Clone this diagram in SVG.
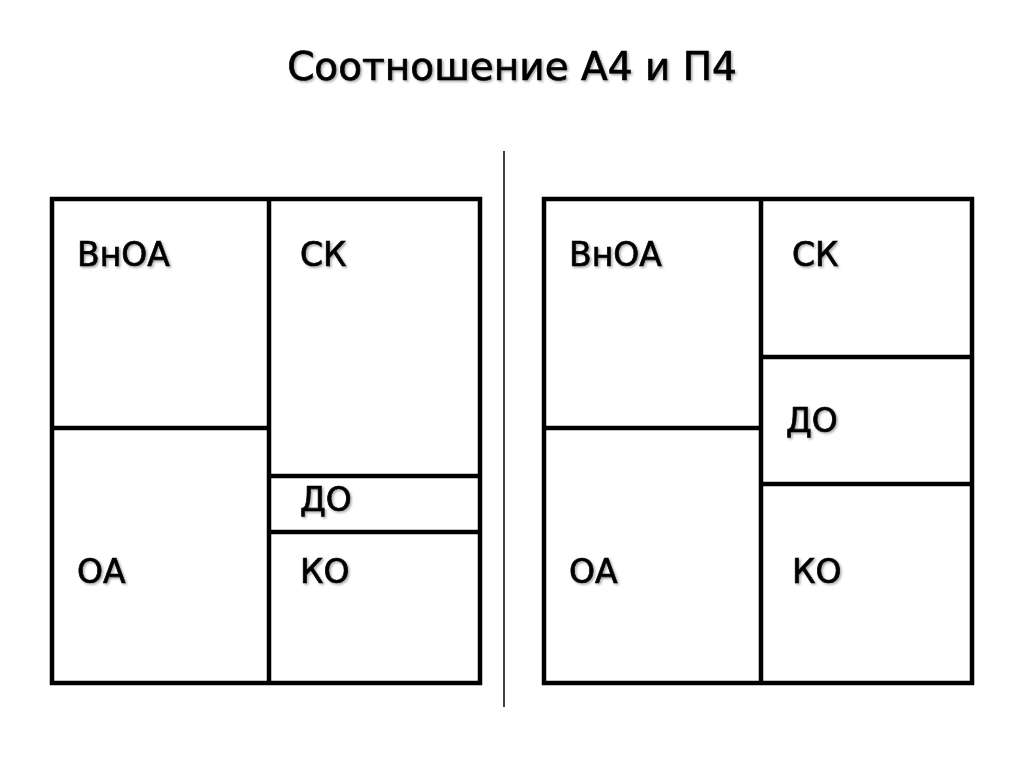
<svg xmlns="http://www.w3.org/2000/svg" width="1024" height="768" viewBox="0 0 1024 768">
<defs>
<filter id="sh" x="-10%" y="-10%" width="130%" height="130%"><feDropShadow dx="1.5" dy="1.5" stdDeviation="1" flood-color="#000" flood-opacity="0.35"/></filter>
</defs>
<style>
.t{font-family:"DejaVu Sans","Liberation Sans",sans-serif;fill:#000;stroke:#000;stroke-width:0.7;filter:url(#sh)}
.lbl{font-size:33px}
.title{font-size:39px}
.box{fill:#fff;stroke:#000;stroke-width:4.5}
.ln{stroke:#000;stroke-width:4.5;fill:none}
.sep{stroke:#000;stroke-width:1.5}
</style>
<rect width="1024" height="768" fill="#fff"/>
<text class="t title" x="512" y="80" text-anchor="middle">Соотношение А4 и П4</text>
<line class="sep" x1="504" y1="151" x2="504" y2="707"/>
<g id="a4">
<rect class="box" x="52" y="199" width="428" height="484"/>
<line class="ln" x1="269" y1="199" x2="269" y2="683"/>
<line class="ln" x1="52" y1="428" x2="269" y2="428"/>
<line class="ln" x1="269" y1="476" x2="480" y2="476"/>
<line class="ln" x1="269" y1="532" x2="480" y2="532"/>
<g id="a4-vnoa"><text class="t lbl" x="77" y="266">ВнОА</text></g>
<g id="a4-sk"><text class="t lbl" x="300" y="266">СК</text></g>
<g id="a4-do"><text class="t lbl" x="300" y="511">ДО</text></g>
<g id="a4-oa"><text class="t lbl" x="77" y="583">ОА</text></g>
<g id="a4-ko"><text class="t lbl" x="300" y="583">КО</text></g>
</g>
<g id="p4">
<rect class="box" x="544" y="199" width="428" height="484"/>
<line class="ln" x1="761" y1="199" x2="761" y2="683"/>
<line class="ln" x1="544" y1="428" x2="761" y2="428"/>
<line class="ln" x1="761" y1="357" x2="972" y2="357"/>
<line class="ln" x1="761" y1="484" x2="972" y2="484"/>
<g id="p4-vnoa"><text class="t lbl" x="569" y="266">ВнОА</text></g>
<g id="p4-sk"><text class="t lbl" x="792" y="266">СК</text></g>
<g id="p4-do"><text class="t lbl" x="786" y="432">ДО</text></g>
<g id="p4-oa"><text class="t lbl" x="569" y="583">ОА</text></g>
<g id="p4-ko"><text class="t lbl" x="792" y="583">КО</text></g>
</g>
<g id="connectors"></g>
</svg>
